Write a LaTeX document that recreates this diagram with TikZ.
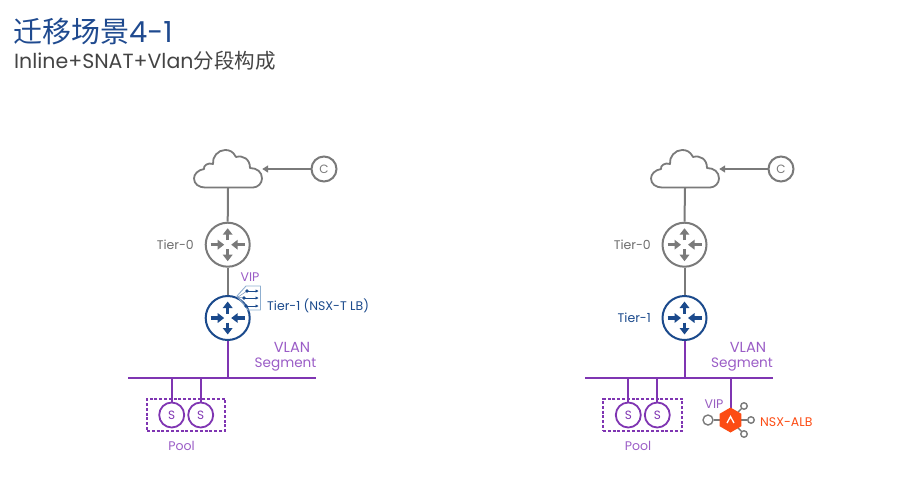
\documentclass[tikz,border=0pt]{standalone}
\usepackage{fontspec}
\setmainfont{Poppins}
\newfontfamily\cjkf{Noto Sans CJK SC}
\usetikzlibrary{arrows.meta,shapes.geometric}
\definecolor{titleblue}{HTML}{1F4A8F}
\definecolor{subgray}{HTML}{444444}
\definecolor{netgray}{HTML}{7A7A7A}
\definecolor{navy}{HTML}{1B4A8C}
\definecolor{violet}{HTML}{7F35B2}
\definecolor{lviolet}{HTML}{9A5CC6}
\definecolor{albred}{HTML}{FC4C14}
\definecolor{lblue}{HTML}{8FAFD0}
\tikzset{
  x=1pt,y=-1pt,
  lbl/.style={inner sep=0pt,font=\fontsize{12.5}{14}\selectfont},
  seglbl/.style={inner sep=0pt,text=lviolet,font=\fontsize{13.6}{16}\selectfont},
  vlanlbl/.style={inner sep=0pt,text=lviolet,font=\fontsize{14.6}{16}\selectfont},
  cloudbox/.style={minimum width=68pt,minimum height=38pt,inner sep=0pt},
  router/.style={circle,draw=#1,line width=2pt,minimum size=44pt,inner sep=0pt},
  client/.style={circle,draw=netgray,line width=2pt,minimum size=25pt,inner sep=0pt,text=netgray,font=\fontsize{12}{14}\selectfont},
  server/.style={circle,draw=violet,line width=1.8pt,minimum size=25pt,inner sep=0pt,text=violet,font=\fontsize{12}{14}\selectfont},
  netline/.style={draw=netgray,line width=2pt},
  vlanline/.style={draw=violet,line width=2pt},
  pool/.style={draw=violet,line width=1.1pt,dash pattern=on 3pt off 1.8pt,minimum width=78pt,minimum height=32pt,inner sep=0pt},
  rarrow/.style={line width=3.4pt,-{Triangle[length=6.5pt,width=9.5pt]}},
  sat/.style={circle,draw=netgray,fill=white,line width=1.4pt,inner sep=0pt},
}
% #1 cloud centre x
\newcommand{\cloudpath}[1]{%
  \draw[netgray,line width=1.8pt,line join=round,shift={(#1,169)}]
    (-23,18.5) -- (25,18.5)
    .. controls (30,18.5) and (34,14) .. (34,9.5)
    .. controls (34,3) and (29,-1) .. (22,-1)
    .. controls (22,-10) and (15,-14) .. (8,-12)
    .. controls (5,-18) and (1,-19) .. (-3,-19)
    .. controls (-10,-19) and (-16,-12) .. (-15,-5)
    .. controls (-20,-7) and (-25,-3) .. (-24,0)
    .. controls (-30,1) and (-34,5) .. (-34,9.5)
    .. controls (-34,15) and (-29,18.5) .. (-23,18.5) -- cycle;}
% #1 node name, #2 colour
\newcommand{\routerarrows}[2]{%
  \draw[#2,rarrow] ([yshift=4.5pt]#1.center) -- ([yshift=16.5pt]#1.center);
  \draw[#2,rarrow] ([yshift=-4.5pt]#1.center) -- ([yshift=-16.5pt]#1.center);
  \draw[#2,rarrow] ([xshift=-17pt]#1.center) -- ([xshift=-3.5pt]#1.center);
  \draw[#2,rarrow] ([xshift=17pt]#1.center) -- ([xshift=3.5pt]#1.center);}
\begin{document}
\begin{tikzpicture}
\useasboundingbox (0,0) rectangle (907,483);
% titles
\node[anchor=west,inner sep=0pt,text=titleblue,font=\fontsize{29}{32}\selectfont] (title) at (13,32) {\cjkf 迁移场景\rmfamily 4-1};
\node[anchor=west,inner sep=0pt,text=subgray,font=\fontsize{20.5}{24}\selectfont] (subtitle) at (14,60.5) {\rmfamily Inline+SNAT+Vlan\cjkf 分段构成};

% ---- left diagram
\node[cloudbox] (cloudA) at (228,169) {};
\cloudpath{228}
\node[client] (clientA) at (324,169) {C};
\node[router=netgray,fill=white] (tzeroA) at (227.7,244.7) {};
\node[router=navy,fill=white] (toneA) at (227.7,318) {};
\draw[netline] (cloudA.south) -- (tzeroA.north);
\draw[netline] (tzeroA.south) -- (toneA.north);
\draw[netline,-{Triangle[length=6pt,width=7pt]}] (clientA.west) -- (cloudA.east);
\routerarrows{tzeroA}{netgray}
\routerarrows{toneA}{navy}
\coordinate (busAl) at (128,378);
\coordinate (busAr) at (316,378);
\draw[vlanline] (busAl) -- (busAr);
\coordinate (busAt) at (toneA.south |- busAl);
\draw[vlanline] (toneA.south) -- (busAt);
\node[pool] (poolA) at (186,415) {};
\node[server] (sAa) at (171.7,415) {S};
\node[server] (sAb) at (200.7,415) {S};
\coordinate (busAa) at (sAa.north |- busAl);
\coordinate (busAb) at (sAb.north |- busAl);
\draw[vlanline] (busAa) -- (sAa.north);
\draw[vlanline] (busAb) -- (sAb.north);
\node[lbl,text=netgray!90!black,anchor=east] (tzlA) at (194,245) {Tier-0};
\node[lbl,text=navy,anchor=west] (tolA) at (267,306) {Tier-1 (NSX-T LB)};
\node[lbl,text=lviolet] (vipA) at (250,277) {VIP};
\node[vlanlbl] (vlanA) at (292,347) {VLAN};
\node[seglbl] (segA) at (285.5,365) {Segment};
\node[lbl,text=lviolet] (poolTA) at (181.5,446) {Pool};
% VIP icon
\begin{scope}
\draw[lblue,line width=0.9pt,line join=round] (248,310) -- (237,296) -- (246,286) -- (260.5,286) -- (260.5,310) -- cycle;
\draw[navy!60,line width=0.5pt] (238,297) -- (247,291) (238,297) -- (244,298) (238,297) -- (246,306);
\foreach \yy/\xs in {291/247,298/244,306/246}{
  \draw[navy,line width=1pt,-{Triangle[length=3pt,width=3pt]}] (\xs,\yy) -- (258.5,\yy);
  \fill[navy] (\xs,\yy) circle (1.9pt);
}
\end{scope}

% ---- right diagram
\node[cloudbox] (cloudB) at (685,169) {};
\cloudpath{685}
\node[client] (clientB) at (781,169) {C};
\node[router=netgray,fill=white] (tzeroB) at (684.5,244.7) {};
\node[router=navy,fill=white] (toneB) at (684.5,318) {};
\draw[netline] (cloudB.south) -- (tzeroB.north);
\draw[netline] (tzeroB.south) -- (toneB.north);
\draw[netline,-{Triangle[length=6pt,width=7pt]}] (clientB.west) -- (cloudB.east);
\routerarrows{tzeroB}{netgray}
\routerarrows{toneB}{navy}
\coordinate (busBl) at (585,378);
\coordinate (busBr) at (773,378);
\draw[vlanline] (busBl) -- (busBr);
\coordinate (busBt) at (toneB.south |- busBl);
\draw[vlanline] (toneB.south) -- (busBt);
\node[pool,minimum width=79pt] (poolB) at (642.5,415) {};
\node[server] (sBa) at (628.3,415) {S};
\node[server] (sBb) at (657.3,415) {S};
\coordinate (busBa) at (sBa.north |- busBl);
\coordinate (busBb) at (sBb.north |- busBl);
\draw[vlanline] (busBa) -- (sBa.north);
\draw[vlanline] (busBb) -- (sBb.north);
\node[lbl,text=netgray!90!black,anchor=east] (tzlB) at (651,245) {Tier-0};
\node[lbl,text=navy,anchor=east] (tolB) at (651,318) {Tier-1};
\node[vlanlbl] (vlanB) at (748,347) {VLAN};
\node[seglbl] (segB) at (742,365) {Segment};
\node[lbl,text=lviolet] (poolTB) at (638,446) {Pool};
\node[lbl,text=violet!80] (vipB) at (714,404) {VIP};
% ALB
\coordinate (busBv) at (730.5,378);
\coordinate (albAnchor) at (730.5,408);
\draw[vlanline] (busBv) -- (albAnchor);
\node[sat,minimum size=10pt] (satL) at (708,420) {};
\node[sat,minimum size=6.5pt] (satR) at (751,420) {};
\node[sat,minimum size=6.5pt] (satT) at (744,406) {};
\node[sat,minimum size=6.5pt] (satB) at (744,434) {};
\coordinate (albc) at (730.5,420);
\draw[netgray,line width=1.4pt] (satL) -- (albc);
\draw[netgray,line width=1.4pt] (albc) -- (satR);
\draw[netgray,line width=1.4pt] (albc) -- (satT);
\draw[netgray,line width=1.4pt] (albc) -- (satB);
\node[regular polygon,regular polygon sides=6,shape border rotate=30,fill=albred,minimum size=25pt,inner sep=0pt] (alb) at (albc) {};
\draw[white,line width=1.3pt] (727,423) -- (730.5,416.5) -- (734,423);
\node[lbl,text=albred,anchor=west] (albl) at (760,422) {NSX-ALB};
\end{tikzpicture}
\end{document}
